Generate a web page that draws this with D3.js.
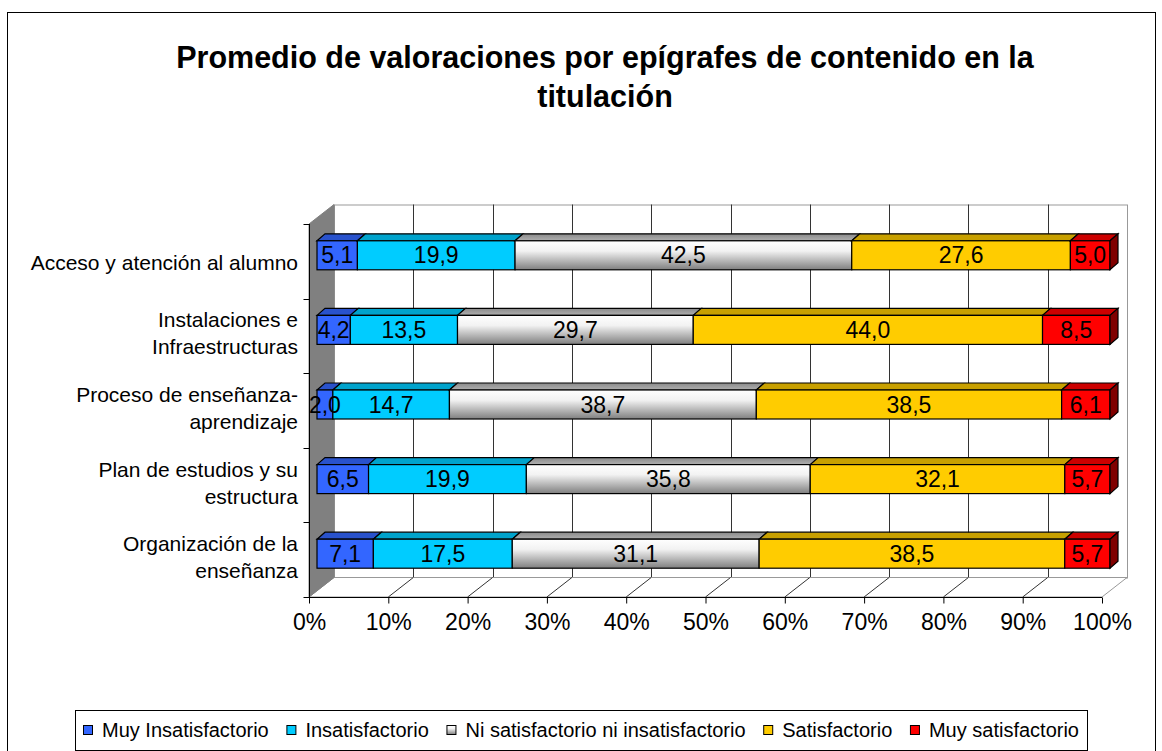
<!DOCTYPE html>
<html>
<head>
<meta charset="utf-8">
<script src="https://cdn.jsdelivr.net/npm/d3@7"></script>
<style>
    body { margin: 0; background: #fff; }
    text { font-family: "Liberation Sans", Arial, sans-serif; }
</style>
</head>
<body>
<div id="chart"></div>
<script>
// categories top to bottom, split the way the chart wraps them
var categories = ["Acceso", "Instalaciones", "Proceso", "Plan", "Organizacion"];
var categoryLines = [
    ["Acceso y atención al alumno"],
    ["Instalaciones e", "Infraestructuras"],
    ["Proceso de enseñanza-", "aprendizaje"],
    ["Plan de estudios y su", "estructura"],
    ["Organización de la", "enseñanza"]
];
var seriesNames = ["Muy Insatisfactorio", "Insatisfactorio", "Ni satisfactorio ni insatisfactorio", "Satisfactorio", "Muy satisfactorio"];
var muyInsatisfactorio = [5.1, 4.2, 2.0, 6.5, 7.1];
var insatisfactorio = [19.9, 13.5, 14.7, 19.9, 17.5];
var niSatisfactorio = [42.5, 29.7, 38.7, 35.8, 31.1];
var satisfactorio = [27.6, 44.0, 38.5, 32.1, 38.5];
var muySatisfactorio = [5.0, 8.5, 6.1, 5.7, 5.7];
var xTicks = [0, 10, 20, 30, 40, 50, 60, 70, 80, 90, 100];

var seriesValues = [muyInsatisfactorio, insatisfactorio, niSatisfactorio, satisfactorio, muySatisfactorio];
var frontColors = ["#3366FF", "#00CCFF", "url(#grayGrad)", "#FFCC00", "#FF0000"];
var topColors = ["#2952CC", "#00A3CC", "url(#grayTop)", "#C8A000", "#CC0000"];
var sideColor = "#800000";

var table = categories.map(function (c, i) {
    var row = {cat: c};
    seriesNames.forEach(function (s, j) { row[s] = seriesValues[j][i]; });
    return row;
});

var stack = d3.stack().keys(seriesNames).offset(d3.stackOffsetExpand);
var stacked = stack(table);

var width = 1162, height = 751;
var svg = d3.select("#chart").append("svg")
    .attr("width", width)
    .attr("height", height);

var defs = svg.append("defs");
var gg = defs.append("linearGradient").attr("id", "grayGrad")
    .attr("x1", 0).attr("y1", 0).attr("x2", 0).attr("y2", 1);
gg.append("stop").attr("offset", "0%").attr("stop-color", "#ffffff");
gg.append("stop").attr("offset", "35%").attr("stop-color", "#f2f2f2");
gg.append("stop").attr("offset", "100%").attr("stop-color", "#7f7f7f");
var gt = defs.append("linearGradient").attr("id", "grayTop")
    .attr("x1", 0).attr("y1", 0).attr("x2", 0).attr("y2", 1);
gt.append("stop").attr("offset", "0%").attr("stop-color", "#8a8a8a");
gt.append("stop").attr("offset", "100%").attr("stop-color", "#b0b0b0");

// outer frame
svg.append("rect")
    .attr("x", 7.5).attr("y", 12.5)
    .attr("width", 1148).attr("height", 800)
    .attr("fill", "#fff").attr("stroke", "#000");

// title
var title = svg.append("text")
    .attr("x", 605).attr("y", 68)
    .attr("text-anchor", "middle")
    .style("font-size", "30.5px").style("font-weight", "bold");
title.append("tspan").attr("x", 605).text("Promedio de valoraciones por epígrafes de contenido en la");
title.append("tspan").attr("x", 605).attr("dy", 39).text("titulación");

// scales (front plane)
var x = d3.scaleLinear().domain([0, 1]).range([309, 1102]);
var xPct = d3.scaleLinear().domain([0, 100]).range([309, 1102]);
var y = d3.scaleBand().domain(categories).range([224, 597]);
var DX = 25, DY = -19.5;      // wall depth
var BX = 8, BY = -6;          // bar front offset into depth
var TX = 8, TY = -7;          // bar depth
var barH = 29;

var top0 = y.range()[0], bot0 = y.range()[1];

// back wall
svg.append("rect")
    .attr("x", 309 + DX + 0.5).attr("y", top0 + DY + 0.5)
    .attr("width", 793).attr("height", bot0 - top0)
    .attr("fill", "#fff").attr("stroke", "#999");

// back gridlines
svg.append("g").selectAll("line")
    .data(xTicks.slice(1, -1))
    .enter().append("line")
    .attr("x1", function (d) { return Math.round(xPct(d) + DX) + 0.5; })
    .attr("x2", function (d) { return Math.round(xPct(d) + DX) + 0.5; })
    .attr("y1", top0 + DY)
    .attr("y2", bot0 + DY)
    .attr("stroke", "#333");

// floor
svg.append("polygon")
    .attr("points", [[309, bot0], [309 + DX, bot0 + DY], [1102 + DX, bot0 + DY], [1102, bot0]].join(" "))
    .attr("fill", "#fff").attr("stroke", "#999");
svg.append("g").selectAll("line")
    .data(xTicks.slice(1, -1))
    .enter().append("line")
    .attr("x1", function (d) { return xPct(d); })
    .attr("x2", function (d) { return xPct(d) + DX; })
    .attr("y1", bot0)
    .attr("y2", bot0 + DY)
    .attr("stroke", "#333");

// left wall
svg.append("polygon")
    .attr("points", [[309, top0], [309 + DX, top0 + DY], [309 + DX, bot0 + DY], [309, bot0]].join(" "))
    .attr("fill", "#808080").attr("stroke", "#808080");

// axes
var xAxisCall = d3.axisBottom(xPct).tickValues(xTicks).tickSize(6).tickFormat(function (d) { return d + "%"; });
var xAxis = svg.append("g")
    .attr("transform", "translate(0," + (bot0 + 0.5) + ")")
    .call(xAxisCall);
xAxis.select(".domain").attr("d", "M309,0H1102");
xAxis.selectAll("text")
    .attr("y", 16)
    .style("font-size", "23px")
    .style("font-family", "'Liberation Sans', Arial, sans-serif")
    .attr("fill", "#000");

var yAxis = svg.append("g").attr("transform", "translate(309.5,0)");
yAxis.append("line").attr("x1", 0).attr("x2", 0).attr("y1", top0).attr("y2", bot0).attr("stroke", "#000");
yAxis.selectAll(".tk")
    .data(categories.concat(["end"]))
    .enter().append("line")
    .attr("class", "tk")
    .attr("x1", -6).attr("x2", 0)
    .attr("y1", function (d, i) { return Math.round(top0 + i * y.step()) + 0.5; })
    .attr("y2", function (d, i) { return Math.round(top0 + i * y.step()) + 0.5; })
    .attr("stroke", "#000");

// category labels
var catLabel = svg.append("g").selectAll("text")
    .data(categories)
    .enter().append("text")
    .attr("text-anchor", "end")
    .style("font-size", "21px");
catLabel.each(function (d, i) {
    var t = d3.select(this);
    var bc = y(d) + y.bandwidth() / 2;
    var lines = categoryLines[i];
    var y0 = lines.length == 1 ? bc + 9 : bc - 8.5;
    lines.forEach(function (line, k) {
        t.append("tspan").attr("x", 298).attr("y", y0 + k * 27).text(line);
    });
});

// bars
var fmt = function (v) { return d3.format(".1f")(v).replace(".", ","); };
var barsG = svg.append("g");

stacked.forEach(function (layer, j) {
    var g = barsG.append("g").attr("class", "series-" + j);
    layer.forEach(function (seg, i) {
        var cy = y(categories[i]) + y.bandwidth() / 2 + BY;
        var x0 = x(seg[0]) + BX, x1 = x(seg[1]) + BX;
        var yt = cy - barH / 2, yb = cy + barH / 2;
        g.append("polygon")
            .attr("points", [[x0, yt], [x0 + TX, yt + TY], [x1 + TX, yt + TY], [x1, yt]].join(" "))
            .attr("fill", topColors[j]).attr("stroke", "#000").attr("stroke-width", 1.2);
        g.append("rect")
            .attr("x", x0).attr("y", yt)
            .attr("width", x1 - x0).attr("height", barH)
            .attr("fill", frontColors[j]).attr("stroke", "#000").attr("stroke-width", 1.2);
        if (j == stacked.length - 1) {
            g.append("polygon")
                .attr("points", [[x1, yt], [x1 + TX, yt + TY], [x1 + TX, yb + TY], [x1, yb]].join(" "))
                .attr("fill", sideColor).attr("stroke", "#000").attr("stroke-width", 1.2);
        }
    });
});

// value labels
stacked.forEach(function (layer, j) {
    barsG.append("g").selectAll("text")
        .data(layer)
        .enter().append("text")
        .attr("text-anchor", "middle")
        .attr("x", function (d) { return (x(d[0]) + x(d[1])) / 2 + BX; })
        .attr("y", function (d, i) { return y(categories[i]) + y.bandwidth() / 2 + BY + 8; })
        .style("font-size", "23px")
        .text(function (d, i) { return fmt(seriesValues[j][i]); });
});

// legend
var lx0 = 75, lx1 = 1087, ly0 = 710, ly1 = 750;
svg.append("rect")
    .attr("x", lx0 + 0.5).attr("y", ly0 + 0.5)
    .attr("width", lx1 - lx0).attr("height", ly1 - ly0)
    .attr("fill", "#fff").attr("stroke", "#000");
var legend = svg.append("g");
var items = legend.selectAll("g")
    .data(seriesNames)
    .enter().append("g");
items.append("rect")
    .attr("width", 9).attr("height", 9)
    .attr("y", 725.5)
    .attr("fill", function (d, j) { return j == 2 ? "url(#grayGrad)" : frontColors[j]; })
    .attr("stroke", "#000");
items.append("text")
    .attr("y", 737)
    .style("font-size", "20px")
    .text(function (d) { return d; });
var widths = [];
items.each(function () {
    widths.push(19 + d3.select(this).select("text").node().getComputedTextLength());
});
var total = d3.sum(widths);
var pad = 8;
var gap = (lx1 - lx0 - 2 * pad - total) / (seriesNames.length - 1);
var cx = lx0 + pad;
items.each(function (d, j) {
    var it = d3.select(this);
    it.select("rect").attr("x", cx + 0.5);
    it.select("text").attr("x", cx + 19);
    cx += widths[j] + gap;
});
</script>
</body>
</html>
